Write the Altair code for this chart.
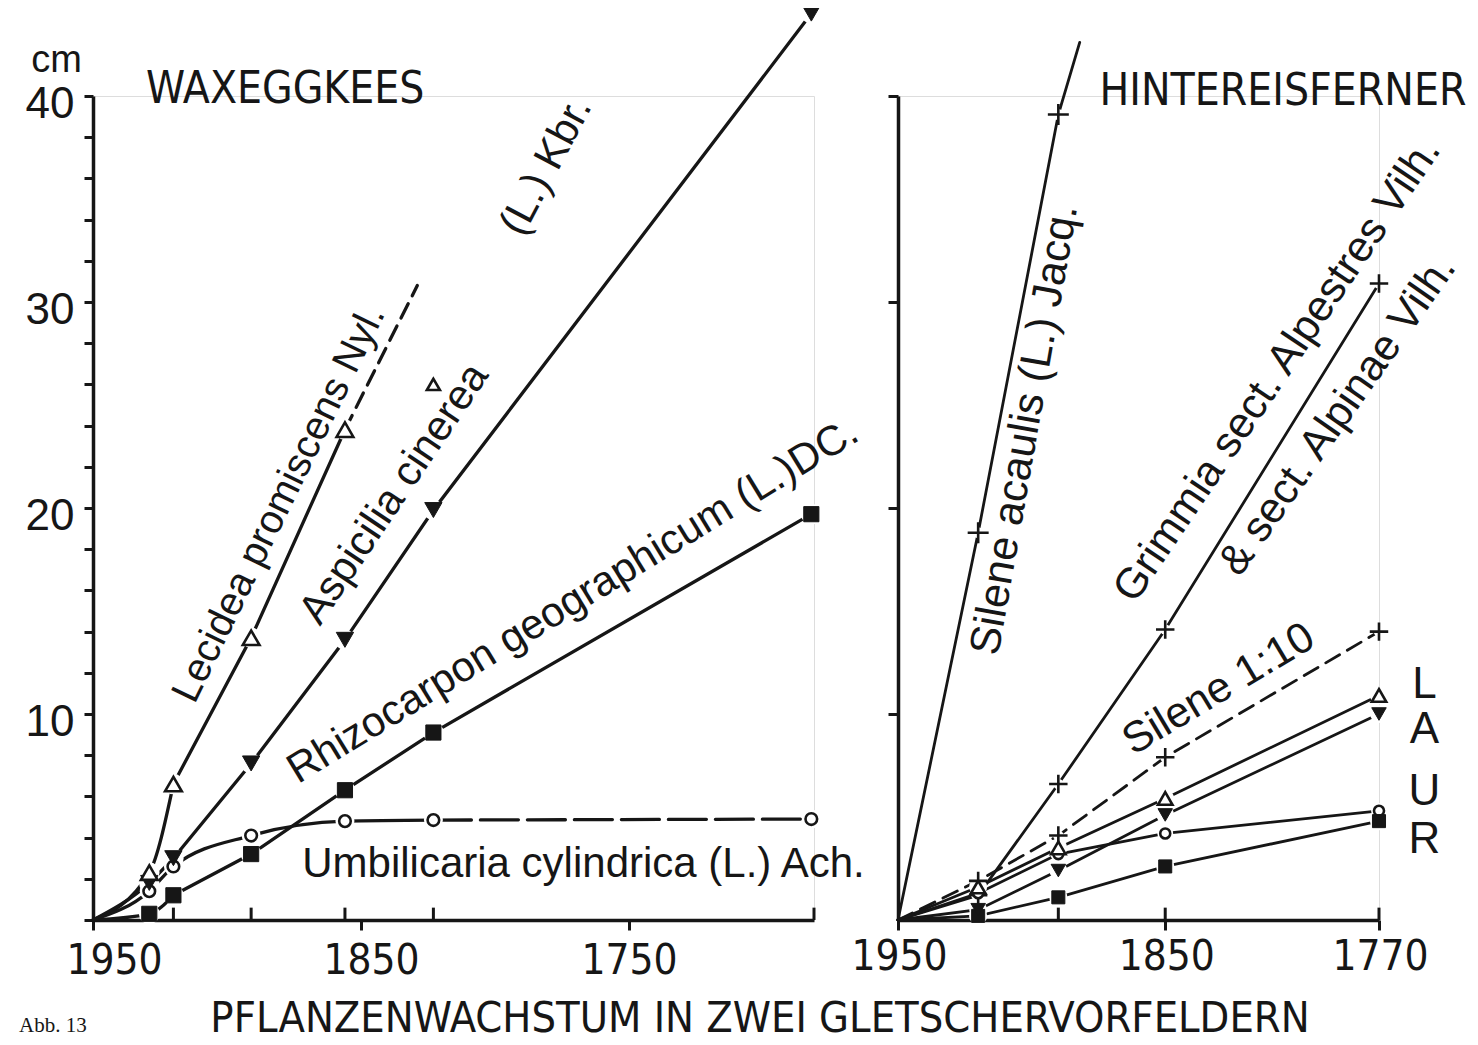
import altair as alt
import pandas as pd

INK = "#161616"
SANS = "Liberation Sans, Arial, sans-serif"
NARROW = "Liberation Sans Narrow, DejaVu Sans Condensed, Liberation Sans, sans-serif"
SERIF = "Liberation Serif, serif"

# ---------------- WAXEGGKEES (left panel) ----------------
W_YEARS = [1950, 1929, 1920, 1891, 1856, 1823, 1682]
W_LECIDEA = [0, 2.3, 6.6, 13.7, 23.8]            # open triangles, first five years
W_LECIDEA_DASH_YEARS = [1856, 1829]
W_LECIDEA_DASH = [23.8, 30.8]
W_LECIDEA_LONE_YEAR = [1823]
W_LECIDEA_LONE = [26.0]
W_ASPICILIA = [0, 1.8, 3.0, 7.6, 13.6, 19.9, 44.0]   # filled down-triangles
W_RHIZOCARPON = [0, 0.3, 1.2, 3.2, 6.3, 9.1, 19.7]   # filled squares
W_UMBILICARIA = [0, 1.4, 2.6, 4.1, 4.8, 4.85, 4.9]   # open circles
W_UPTICKS = [1920, 1891, 1856, 1823, 1681]
W_XLABELS = [1950, 1850, 1750]

# ---------------- HINTEREISFERNER (right panel) ----------------
H_YEARS = [1950, 1920, 1890, 1850, 1770]
H_SILENE_YEARS = [1950, 1920, 1890, 1882]
H_SILENE = [0, 18.8, 39.1, 42.6]
H_SILENE10 = [0, 1.9, 4.1, 7.9, 14.0]
H_GRIMMIA = [0, 1.2, 6.6, 14.1, 30.9]
H_L = [0, 1.6, 3.5, 5.9, 10.9]
H_A = [0, 0.5, 2.4, 5.1, 10.0]
H_U = [0, 1.3, 3.2, 4.2, 5.3]
H_R = [0, 0.2, 1.1, 2.6, 4.8]
H_UPTICKS = [1890, 1850, 1770]
H_XLABELS = [1950, 1850, 1770]

CROSS = "M-1,0L1,0M0,-1L0,1"


def series_df(years, values, marker_from=1, marker_to=None):
    n = len(years)
    marker_to = n if marker_to is None else marker_to
    return pd.DataFrame({
        "year": years,
        "value": values,
        "marker": [marker_from <= i < marker_to for i in range(n)],
    })


def make_panel(xdom, width, xaxis, yaxis, lines, points, texts, upticks, extra=None):
    X = alt.X("year:Q", scale=alt.Scale(domain=xdom, reverse=True, nice=False, zero=False), axis=xaxis)
    Y = alt.Y("value:Q", scale=alt.Scale(domain=[0, 40], nice=False, zero=True), axis=yaxis)
    layers = []
    for df, dash, sw, interp in lines:
        kw = dict(color=INK, strokeWidth=sw, interpolate=interp, clip=False, strokeCap="round")
        if dash:
            kw["strokeDash"] = dash
        layers.append(alt.Chart(df).mark_line(**kw).encode(
            x=X, y=Y, order=alt.Order("year:Q", sort="descending")))
    tick_df = pd.DataFrame({"year": upticks, "value": [0] * len(upticks), "value2": [0.6] * len(upticks)})
    layers.append(alt.Chart(tick_df).mark_rule(color=INK, strokeWidth=3).encode(x=X, y=Y, y2="value2:Q"))
    # white halos so that lines stop short of the markers
    for df, shape, filled, size, halo in points:
        d = df[df["marker"]]
        layers.append(alt.Chart(d).mark_point(shape="circle", filled=True, color="white",
                                              opacity=1, size=halo, strokeWidth=0).encode(x=X, y=Y))
    for df, shape, filled, size, halo in points:
        d = df[df["marker"]]
        if shape == CROSS:
            m = alt.Chart(d).mark_point(shape=shape, filled=False, stroke=INK, strokeWidth=2.6,
                                        opacity=1, size=size)
        elif filled:
            m = alt.Chart(d).mark_point(shape=shape, filled=True, fill=INK, stroke=INK,
                                        strokeWidth=1, opacity=1, size=size)
        else:
            m = alt.Chart(d).mark_point(shape=shape, filled=True, fill="white", stroke=INK,
                                        strokeWidth=2.6, opacity=1, size=size)
        layers.append(m.encode(x=X, y=Y))
    for df, font, size, align in texts:
        layers.append(alt.Chart(df).mark_text(font=font, fontSize=size, color=INK, align=align,
                                              baseline="middle").encode(
            x=X, y=Y, text="text:N", angle=alt.Angle("angle:Q", scale=None)))
    if extra is not None:
        layers.extend(extra)
    return alt.layer(*layers).properties(width=width, height=824)


# ---------- left panel data frames ----------
w_lec_all = series_df(W_YEARS[:5], W_LECIDEA)
w_lec_curve = series_df(W_YEARS[:3], W_LECIDEA[:3])
w_lec_lin = series_df(W_YEARS[2:5], W_LECIDEA[2:5])
w_lec_dash = series_df(W_LECIDEA_DASH_YEARS, W_LECIDEA_DASH, 0, 0)
w_lec_lone = series_df(W_LECIDEA_LONE_YEAR, W_LECIDEA_LONE, 0)
w_asp_all = series_df(W_YEARS, W_ASPICILIA)
w_asp_curve = series_df(W_YEARS[:3], W_ASPICILIA[:3])
w_asp_lin = series_df(W_YEARS[2:], W_ASPICILIA[2:])
w_rhi_all = series_df(W_YEARS, W_RHIZOCARPON)
w_rhi_curve = series_df(W_YEARS[:3], W_RHIZOCARPON[:3])
w_rhi_lin = series_df(W_YEARS[2:], W_RHIZOCARPON[2:])
w_umb_all = series_df(W_YEARS, W_UMBILICARIA)
w_umb_curve = series_df(W_YEARS[:6], W_UMBILICARIA[:6])
w_umb_dash = series_df(W_YEARS[5:], W_UMBILICARIA[5:])

left_texts = pd.DataFrame({
    "text": ["Aspicilia cinerea", "(L.) Kbr.",
             "Rhizocarpon geographicum (L.)DC.", "Umbilicaria cylindrica (L.) Ach."],
    "year": [1837.7, 1781.0, 1771.0, 1767.0],
    "value": [20.7, 36.6, 15.5, 2.72],
    "angle": [304, 298, 328.5, 0],
})
left_lecidea = pd.DataFrame({"text": ["Lecidea promiscens Nyl."], "year": [1880.5],
                             "value": [20.2], "angle": [296]})
left_title = pd.DataFrame({"text": ["WAXEGGKEES"], "year": [1930.2], "value": [40.3], "angle": [0]})

left_x_axis = alt.Axis(values=W_XLABELS, format="d", title=None, grid=False, tickSize=10, tickWidth=3,
                       domainWidth=3.5, domainColor=INK, tickColor=INK, labelColor=INK,
                       labelFont=NARROW, labelFontSize=42, labelPadding=10,
                       labelOffset={"condition": [{"test": "datum.value == 1950", "value": 21},
                                                  {"test": "datum.value == 1850", "value": 10}],
                                    "value": 0},
                       labelFlush=False, labelOverlap=False, labelBound=False)
left_y_axis = alt.Axis(values=list(range(0, 41, 2)),
                       labelExpr="datum.value > 0 && datum.value % 10 == 0 ? datum.label : ''",
                       grid=False, tickSize=9, tickWidth=3, domainWidth=3.5, domainColor=INK,
                       tickColor=INK, labelColor=INK, labelFont=SANS, labelFontSize=44,
                       labelPadding=10, labelOffset=8, labelOverlap=False, labelBound=False,
                       title="cm", titleAngle=0, titleFont=SANS, titleFontSize=38,
                       titleFontWeight="normal", titleColor=INK, titleX=-37, titleY=-36,
                       titleAlign="center", titleBaseline="middle")

notes = pd.DataFrame({"t": ["Abb. 13"]})
abb = alt.Chart(notes).mark_text(
    font=SERIF, fontSize=21, color=INK, align="left", baseline="middle").encode(
    text="t:N", x=alt.value(-74), y=alt.value(930))
heading = pd.DataFrame({"t": ["PFLANZENWACHSTUM IN ZWEI GLETSCHERVORFELDERN"]})
main_title = alt.Chart(heading).mark_text(
    font=NARROW, fontSize=43, color=INK, align="center", baseline="middle").encode(
    text="t:N", x=alt.value(667), y=alt.value(923))

left = make_panel(
    [1681, 1950], 721, left_x_axis, left_y_axis,
    lines=[(w_lec_curve, None, 3.3, "monotone"), (w_lec_lin, None, 3.3, "linear"),
           (w_lec_dash, [16, 9], 3.3, "linear"),
           (w_asp_curve, None, 3.3, "monotone"), (w_asp_lin, None, 3.3, "linear"),
           (w_rhi_curve, None, 3.3, "monotone"), (w_rhi_lin, None, 3.3, "linear"),
           (w_umb_curve, None, 3.3, "monotone"), (w_umb_dash, [38, 9], 3.3, "linear")],
    points=[(w_umb_all, "circle", False, 135, 360),
            (w_rhi_all, "square", True, 230, 430),
            (w_asp_all, "triangle-down", True, 300, 420),
            (w_lec_all, "triangle-up", False, 280, 420), (w_lec_lone, "triangle-up", False, 170, 260)],
    texts=[(left_texts, SANS, 42, "center"), (left_lecidea, SANS, 40, "center"),
           (left_title, NARROW, 44, "left")],
    upticks=W_UPTICKS, extra=[abb, main_title])

# ---------- right panel data frames ----------
h_sil = series_df(H_SILENE_YEARS, H_SILENE, 1, 3)
h_sil10 = series_df(H_YEARS, H_SILENE10)
h_gri = series_df(H_YEARS, H_GRIMMIA)
h_l = series_df(H_YEARS, H_L)
h_a = series_df(H_YEARS, H_A)
h_u = series_df(H_YEARS, H_U)
h_r = series_df(H_YEARS, H_R)

right_texts = pd.DataFrame({
    "text": ["Silene acaulis (L.) Jacq.", "Grimmia sect. Alpestres Vilh.",
             "& sect. Alpinae Vilh.", "Silene 1:10"],
    "year": [1902.5, 1808.0, 1785.5, 1830.0],
    "value": [23.8, 26.7, 24.5, 11.2],
    "angle": [280, 304, 305, 329],
})
right_letters = pd.DataFrame({"text": ["L", "A", "U", "R"], "year": [1753.0] * 4,
                              "value": [11.4, 9.2, 6.2, 3.9], "angle": [0] * 4})
right_title = pd.DataFrame({"text": ["HINTEREISFERNER"], "year": [1874.6], "value": [40.2], "angle": [0]})

right_x_axis = alt.Axis(values=H_XLABELS, format="d", title=None, grid=False, tickSize=10, tickWidth=3,
                        domainWidth=3.5, domainColor=INK, tickColor=INK, labelColor=INK,
                        labelFont=NARROW, labelFontSize=42, labelPadding=6, labelOffset=1,
                        labelFlush=False, labelOverlap=False, labelBound=False)
right_y_axis = alt.Axis(values=[10, 20, 30, 40], labels=False, title=None, grid=False, tickSize=10,
                        tickWidth=3, domainWidth=3.5, domainColor=INK, tickColor=INK)

right = make_panel(
    [1770, 1950], 481, right_x_axis, right_y_axis,
    lines=[(h_sil, None, 2.8, "linear"), (h_sil10, [16, 9], 2.8, "linear"),
           (h_gri, None, 2.8, "linear"), (h_l, None, 2.8, "linear"), (h_a, None, 2.8, "linear"),
           (h_u, None, 2.8, "linear"), (h_r, None, 2.8, "linear")],
    points=[(h_sil, CROSS, False, 440, 120), (h_sil10, CROSS, False, 340, 110),
            (h_gri, CROSS, False, 340, 110),
            (h_u, "circle", False, 100, 250), (h_r, "square", True, 170, 330),
            (h_a, "triangle-down", True, 210, 320), (h_l, "triangle-up", False, 210, 320)],
    texts=[(right_texts, SANS, 43, "center"), (right_letters, SANS, 44, "center"),
           (right_title, NARROW, 44, "left")],
    upticks=H_UPTICKS)

chart = alt.hconcat(left, right, spacing=84, bounds="flush").properties(
    padding={"left": 10, "top": -6, "right": 0, "bottom": 0},
).configure_view(stroke=None).configure(background="white")

chart.save("out.html", embed_options={"renderer": "svg", "actions": False})
